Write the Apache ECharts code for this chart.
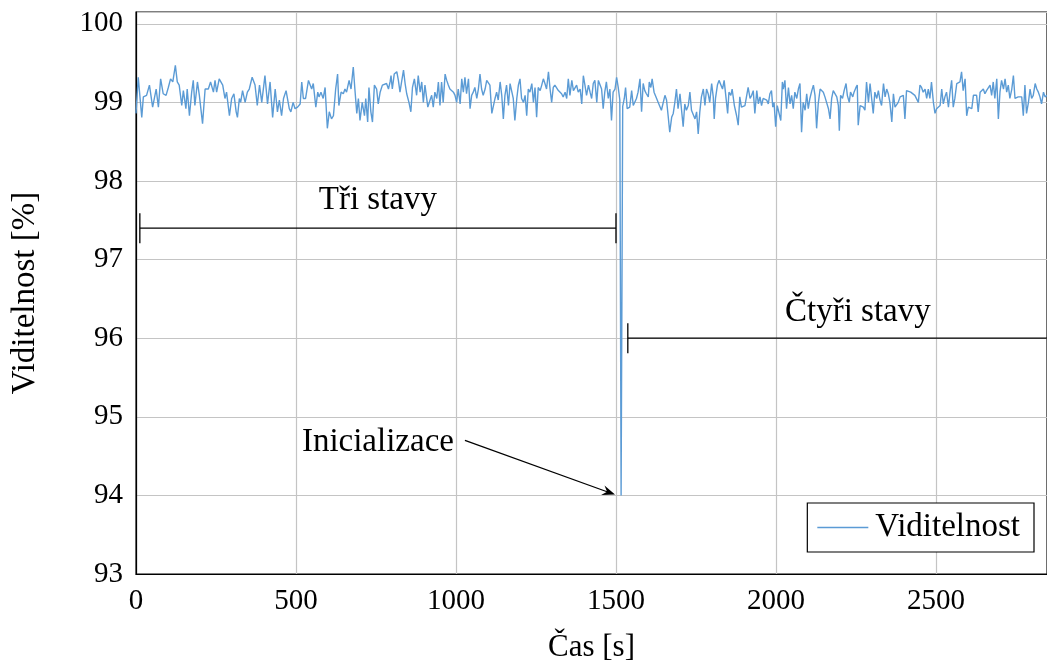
<!DOCTYPE html>
<html><head><meta charset="utf-8">
<script src="https://cdn.jsdelivr.net/npm/echarts@6/dist/echarts.min.js"></script>
<style>html,body{margin:0;padding:0;background:#fff}#c{width:1047px;height:666px}</style>
</head><body><div id="c"></div>
<script>
// time [s]
const timeSec = [
0,7,18,23,33,42,52,63,70,77, 85,94,101,108,115,123,129,135,143,148, 156,160,167,174,179,184,192,198,208,216, 226,233,242,247,252,260,271,278,283,292, 299,306,313,317,323,327,333,341,348,354, 363,372,379,386,393,403,411,419,427,435, 442,448,455,461,469,479,
484,491,497,505,513,518,523,530,539,544, 549,554,562,568,572,578,585,591,598,604, 611,617,624,630,634,641,648,653,658,666, 672,679,684,690,695,700,707,714,718,724, 728,734,739,745,752,757,763,770,776,783, 789,794,797,801,807,815,820,825,830,836, 841,846,853,859,864,870,877,882,888,893, 898,903,912,919,924,929,934,940,945,950, 955,960,
966,971,976,981,986,992,997,1002,1007,1013, 1018,1023,1028,1033,1039,1044,1049,1054,1059,1065, 1070,1075,1080,1085,1091,1096,1101,1106,1112,1117, 1122,1127,1132,1138,1143,1148,1153,1158,1164,1169, 1174,1179,1184,1190,1195,1200,1205,1211,1216,1221, 1226,1231,1237,1242,1247,1252,1257,1263,1268,1273, 1278,1283,1289,1294,1299,1304,1309,1315,1320,1325, 1330,1335,1341,1346,1351,1356,1362,1367,1372,1377, 1382,1388,1393,1398,1403,1408,1414,1419,1424,1429, 1434,1440,1445,
1450,1455,1460,1465,1470,1476,1481,1486,1491,1497, 1502,1507,1512,1516,1521,1526,1530,1535,1538,1543, 1549,1554,1559,1564,1569,1575,1580,1585,1590,1595, 1601,1604,1609,1613,1619,1627,1632,1637,1642,1648, 1653,1658,1663,1668,1674,1679,1684,1689,1694,1700, 1705,1710,1715,1720,1726,1731,1736,1741,1747,1752, 1757,1762,1767,1773,1778,1783,1788,1793,1799,1804, 1807,1811,1817,1822,1828,1833,1838,1842,1849,1853, 1859,1863,1870,1877,1882,1887,1892,1898,1903,1908, 1913,1919,1924,1929,
1934,1940,1945,1950,1955,1960,1966,1971,1976,1981, 1986,1990,1994,1999,2004,2010,2015,2020,2023,2028, 2033,2039,2044,2049,2054,2059,2065,2070,2075,2080, 2085,2091,2096,2101,2106,2112,2117,2122,2127,2132, 2138,2143,2148,2153,2158,2164,2169,2174,2179,2184, 2190,2195,2198,2202,2208,2213,2219,2223,2229,2233, 2240,2244,2250,2254,2257,2263,2268,2273,2278,2283, 2289,2294,2299,2304,2309,2315,2320,2325,2330,2336, 2341,2346,2351,2356,2362,2367,2372,2377,2382,2388, 2393,2398,2403,2408,2414,
2421,2427,2434,2440,2445,2450,2455,2460,2466,2471, 2476,2481,2486,2492,2497,2502,2507,2513,2518,2523, 2528,2533,2539,2544,2549,2554,2559,2565,2570,2575, 2580,2585,2591,2596,2601,2606,2612,2617,2622,2627, 2632,2638,2643,2648,2653,2658,2664,2669,2674,2679, 2684,2690,2695,2700,2705,2711,2716,2721,2726,2731, 2737,2742,2747,2752,2757,2763,2768,2773,2778,2783, 2789,2794,2799,2804,2810,2815,2820,2825,2830,2836, 2841,2847
];
// Viditelnost [%]
const visibility = [
98.86,99.32,98.81,99.07,99.09,99.22,98.94,99.17,98.94,99.30, 99.11,99.09,99.19,99.30,99.26,99.47,99.26,99.22,98.96,99.15, 98.92,99.17,98.83,99.13,99.28,98.96,99.26,99.09,98.73,99.17, 99.17,99.26,99.13,99.28,99.13,99.30,99.22,99.05,99.13,98.83, 99.05,99.11,98.88,98.81,99.05,99.00,99.15,99.00,99.13,99.17, 99.32,99.22,98.96,99.22,99.00,99.34,98.98,99.26,98.81,99.17, 98.88,99.03,98.83,99.05,99.15,98.92,
98.88,99.00,98.92,98.94,98.98,99.26,99.05,99.05,99.28,99.30, 99.17,99.24,98.94,99.13,99.07,99.13,99.05,99.19,98.67,98.88, 98.79,98.83,99.17,99.36,98.96,99.13,99.11,99.17,99.13,99.28, 99.17,99.45,99.17,98.86,99.05,98.77,99.00,98.83,99.05,98.75, 99.19,98.88,98.75,99.22,99.17,98.98,99.13,99.22,99.22,99.24, 99.17,99.26,99.34,99.17,99.36,99.39,99.28,99.13,99.26,99.41, 99.24,99.11,99.00,98.88,99.19,99.30,99.09,99.34,99.13,99.26, 99.00,99.22,98.94,99.03,99.09,98.94,99.13,99.05,99.26,98.96, 99.26,99.00,
99.36,99.28,99.22,99.17,99.19,99.13,99.09,99.00,99.17,98.98, 99.30,99.13,99.32,99.11,99.30,98.92,99.09,99.13,99.19,99.05, 99.17,99.36,99.17,99.09,99.17,99.28,99.30,99.22,98.86,98.86, 99.05,99.13,99.03,99.26,99.09,98.79,99.09,99.22,98.96,99.24, 99.26,99.05,98.77,99.05,99.22,99.30,99.05,99.00,99.09,98.83, 99.17,99.13,99.24,99.00,99.19,98.81,99.19,99.15,99.22,99.30, 99.24,99.17,99.39,99.17,99.00,99.19,99.22,99.24,99.15,99.17, 99.11,99.07,99.13,99.05,99.30,99.09,99.28,99.15,99.17,99.22, 99.13,99.17,98.98,99.34,99.22,99.09,99.22,99.13,99.05,99.24, 99.28,99.00,99.28,
99.30,99.17,98.92,99.13,99.26,99.05,99.17,98.77,99.13,99.17, 99.32,99.19,99.03,94.00,98.95,99.05,99.19,98.92,98.94,98.94, 99.15,98.96,98.94,99.05,99.13,99.30,98.88,99.24,99.15,99.11, 99.07,99.26,99.19,99.30,99.13,99.05,99.00,98.98,98.90,98.90, 99.09,99.03,98.83,98.62,98.81,98.86,99.00,99.17,98.92,99.11, 98.90,98.69,98.98,98.90,98.96,99.13,98.90,98.92,98.79,98.88, 98.60,98.88,99.07,99.17,98.96,99.17,99.11,99.00,99.24,99.07, 98.79,99.05,99.22,99.28,99.26,99.17,99.28,99.13,98.86,99.13, 99.09,99.17,98.96,98.83,98.71,99.07,98.94,98.94,98.96,98.96, 99.19,99.05,99.09,99.15,
98.86,99.15,98.98,99.07,98.96,99.05,99.07,99.03,98.98,99.11, 99.15,98.94,99.00,98.69,98.96,98.98,98.77,99.26,99.17,99.28, 98.92,99.19,98.98,99.09,98.92,99.13,99.05,99.17,99.24,98.62, 99.00,98.90,99.11,98.92,99.05,99.15,99.22,99.09,98.67,98.98, 99.17,99.15,99.13,99.07,99.09,98.92,98.79,99.05,99.15,99.17, 99.07,98.96,98.64,99.09,99.05,99.15,99.24,99.09,99.00,99.13, 99.07,99.13,99.19,99.22,98.71,98.96,98.94,98.94,98.90,99.26, 99.00,99.24,99.05,98.86,99.13,99.05,99.15,99.03,98.96,99.24, 99.07,99.17,99.11,99.00,98.75,99.11,98.94,98.94,99.00,99.07, 99.09,99.09,98.79,99.15,99.17,
99.13,99.11,99.09,99.07,99.00,99.22,99.19,99.13,99.17,99.05, 99.17,99.05,99.26,99.00,98.86,98.92,98.94,98.96,99.17,98.98, 99.07,99.13,98.94,99.13,99.28,98.94,99.05,99.24,99.24,99.26, 99.39,99.15,99.30,98.83,98.94,98.94,98.92,99.09,99.09,99.09, 98.88,99.13,99.13,99.17,99.11,99.15,99.13,99.22,99.09,99.26, 99.05,99.30,98.79,99.13,99.28,99.17,99.30,99.13,99.22,99.05, 99.17,99.34,99.05,99.07,99.07,99.09,99.07,98.83,99.22,98.86, 99.00,99.17,99.05,99.09,99.24,99.17,99.13,99.07,98.98,99.13, 99.07,99.09
];
const seriesName = 'Viditelnost';
const xAxisName = 'Čas [s]';
const yAxisName = 'Viditelnost [%]';

// phase brackets: start [s], end [s], level [%]
const bracketStart = [12, 1537];
const bracketEnd = [1500, 2847];
const bracketLevel = [97.4, 96.0];
const bracketClosedEnd = [true, false];

// annotation texts and their anchor [s, %]
const noteTexts = ['Tři stavy', 'Čtyři stavy', 'Inicializace'];
const noteTime = [756, 2256, 756];
const noteLevel = [97.75, 96.33, 94.67];

// arrow: from [s,%] to [s,%]
const arrowFrom = [1028, 94.70];
const arrowTo = [1497, 94.01];

const FONT = '"Liberation Serif", "DejaVu Serif", serif';
const points = timeSec.map((t, i) => [t, visibility[i]]);

const chart = echarts.init(document.getElementById('c'), null, {renderer: 'canvas'});
chart.setOption({
  animation: false,
  backgroundColor: '#fff',
  grid: {left: 136, right: 0, top: 12, bottom: 92, outerBoundsMode: 'none', containLabel: false,
    show: true, borderColor: '#000', borderWidth: 1.2, backgroundColor: 'transparent'},
  xAxis: {
    type: 'value', min: 0, max: 2847, interval: 500,
    name: xAxisName, nameLocation: 'middle', nameGap: 58,
    nameTextStyle: {fontFamily: FONT, fontSize: 31, color: '#000'},
    axisLine: {show: true, lineStyle: {color: '#000', width: 1.2}},
    axisTick: {show: false},
    axisLabel: {fontFamily: FONT, fontSize: 29, color: '#000', margin: 13, showMaxLabel: false,
      formatter: v => String(v)},
    splitLine: {show: true, lineStyle: {color: '#c4c4c4', width: 1.2}}
  },
  yAxis: {
    type: 'value', min: 93, max: 100.15, interval: 1,
    name: yAxisName, nameLocation: 'middle', nameGap: 94, nameRotate: 90,
    nameTextStyle: {fontFamily: FONT, fontSize: 33, color: '#000'},
    axisLine: {show: true, lineStyle: {color: '#000', width: 1.2}},
    axisTick: {show: false},
    axisLabel: {fontFamily: FONT, fontSize: 29, color: '#000', margin: 13, padding: [3, 0, 0, 0],
      formatter: v => (Math.abs(v - Math.round(v)) < 1e-6 ? String(Math.round(v)) : '')},
    splitLine: {show: true, lineStyle: {color: '#c4c4c4', width: 1.2}}
  },
  legend: {
    data: [{name: seriesName, icon: 'rect'}], right: 13, bottom: 114,
    itemWidth: 51, itemHeight: 1.5, itemGap: 10,
    padding: [8, 14, 8, 10],
    itemStyle: {color: '#5b9bd5', borderWidth: 0},
    borderColor: '#000', borderWidth: 1.2, borderRadius: 0, backgroundColor: '#fff',
    textStyle: {fontFamily: FONT, fontSize: 33, color: '#000', padding: [0, 0, 0, 2]}
  },
  series: [
    {
      name: seriesName, type: 'line', data: points, symbol: 'none', showSymbol: false,
      lineStyle: {color: '#5b9bd5', width: 1.4}, itemStyle: {color: '#5b9bd5'}, z: 3
    },
    {
      name: 'brackets', type: 'custom', clip: true, z: 4,
      data: bracketStart.map((s, i) => [s, bracketEnd[i], bracketLevel[i], bracketClosedEnd[i] ? 1 : 0]),
      renderItem: (params, api) => {
        const a = api.coord([api.value(0), api.value(2)]);
        const b = api.coord([api.value(1), api.value(2)]);
        const st = {stroke: '#000', lineWidth: 1.3};
        const ch = [
          {type: 'line', shape: {x1: a[0], y1: a[1], x2: b[0], y2: b[1]}, style: st},
          {type: 'line', shape: {x1: a[0], y1: a[1] - 15, x2: a[0], y2: a[1] + 15}, style: st}
        ];
        if (api.value(3)) ch.push({type: 'line', shape: {x1: b[0], y1: b[1] - 15, x2: b[0], y2: b[1] + 15}, style: st});
        return {type: 'group', children: ch};
      }
    },
    {
      name: 'notes', type: 'custom', z: 5,
      data: noteTexts.map((t, i) => [noteTime[i], noteLevel[i], i]),
      renderItem: (params, api) => {
        const p = api.coord([api.value(0), api.value(1)]);
        return {type: 'text', x: p[0], y: p[1], style: {text: noteTexts[api.value(2)], font: '33px ' + FONT, fill: '#000', align: 'center', verticalAlign: 'middle', backgroundColor: 'transparent'}};
      }
    },
    {
      name: 'arrow', type: 'custom', z: 5,
      data: [[arrowFrom[0], arrowFrom[1], arrowTo[0], arrowTo[1]]],
      renderItem: (params, api) => {
        const a = api.coord([api.value(0), api.value(1)]);
        const b = api.coord([api.value(2), api.value(3)]);
        const ang = Math.atan2(b[1] - a[1], b[0] - a[0]);
        const L = 13, W = 5;
        const bx = b[0] - L * Math.cos(ang), by = b[1] - L * Math.sin(ang);
        const px = -Math.sin(ang) * W, py = Math.cos(ang) * W;
        const mx = b[0] - L * 0.65 * Math.cos(ang), my = b[1] - L * 0.65 * Math.sin(ang);
        return {type: 'group', children: [
          {type: 'line', shape: {x1: a[0], y1: a[1], x2: mx, y2: my}, style: {stroke: '#000', lineWidth: 1.3}},
          {type: 'polygon', shape: {points: [[b[0], b[1]], [bx + px, by + py], [mx, my], [bx - px, by - py]]}, style: {fill: '#000'}}
        ]};
      }
    }
  ]
});
</script></body></html>
